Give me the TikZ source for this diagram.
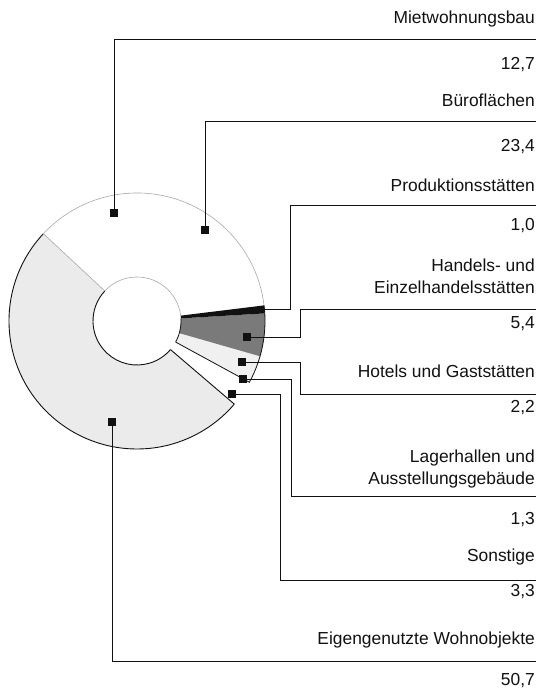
\documentclass[tikz,border=0pt]{standalone}
\usepackage{fontspec}
\setmainfont{Liberation Sans}
\usetikzlibrary{calc}
\definecolor{ChartInk}{HTML}{111111}
\definecolor{ChartDark}{HTML}{7A7A7A}
\definecolor{ChartLight}{HTML}{F0F0F0}
\definecolor{ChartStipple}{HTML}{EBEBEB}
\definecolor{ChartFaint}{HTML}{A8A8A8}
\tikzset{
  every node/.style={font=\fontsize{17.4}{22.5}\selectfont, text=ChartInk},
  marker/.style={fill=ChartInk, inner sep=0pt, minimum size=8pt},
  leader/.style={draw=ChartInk, line width=0.8pt},
  rim/.style={draw=ChartInk, line width=0.9pt},
  faint/.style={draw=ChartFaint, line width=0.6pt},
  itemname/.style={anchor=east, align=right, inner sep=0pt},
  itemvalue/.style={anchor=east, inner sep=0pt},
}

\begin{document}
\begin{tikzpicture}[x=1pt, y=1pt]
  \useasboundingbox (0,0) rectangle (538,690);
  \coordinate (c) at (137,369);
  % Ring segments
  \foreach \a/\b/\tone in {137/319.5/ChartStipple, 331.4/336.1/ChartLight,
      336.1/344/ChartLight, 344/363.4/ChartDark, 363.4/367/ChartInk} {
    \fill[\tone] ($(c)+(\a:44)$) arc[start angle=\a, end angle=\b, radius=44]
      -- ($(c)+(\b:128)$) arc[start angle=\b, end angle=\a, radius=128] -- cycle;
  }
  \draw[rim] ($(c)+(137:128)$) arc[start angle=137, end angle=319.5, radius=128];
  \draw[rim] ($(c)+(137:44)$) arc[start angle=137, end angle=319.5, radius=44];
  \draw[faint] ($(c)+(7:128)$) arc[start angle=7, end angle=137, radius=128];
  \draw[faint] ($(c)+(7:44)$) arc[start angle=7, end angle=137, radius=44];
  \draw[rim] ($(c)+(319.5:44)$) -- ($(c)+(319.5:128)$);
  \draw[faint] ($(c)+(137:44)$) -- ($(c)+(137:128)$);
  \draw[leader] ($(c)+(331.4:44)$) -- ($(c)+(331.4:128)$)
    arc[start angle=331.4, end angle=367, radius=128];
  \draw[leader] ($(c)+(331.4:44)$) arc[start angle=331.4, end angle=363.4, radius=44];
  % Markers
  \node[marker] (miet-mark) at (114,477) {};
  \node[marker] (buero-mark) at (205,460) {};
  \coordinate (prod-tip) at ($(c)+(5:128)$);
  \node[marker] (handel-mark) at (247,353) {};
  \node[marker] (hotel-mark) at (242,328) {};
  \node[marker] (lager-mark) at (243,311) {};
  \node[marker] (sonst-mark) at (232,296) {};
  \node[marker] (eigen-mark) at (112,268) {};
  % Legend
  \node[itemname] (miet-name) at (535,671) {Mietwohnungsbau};
  \node[itemvalue] (miet-value) at (535,625) {12,7};
  \node[itemname] (buero-name) at (535,590) {Büroflächen};
  \node[itemvalue] (buero-value) at (535,543) {23,4};
  \node[itemname] (prod-name) at (535,505) {Produktionsstätten};
  \node[itemvalue] (prod-value) at (535,464) {1,0};
  \node[itemname] (handel-name) at (535,413.5) {Handels- und\\Einzelhandelsstätten};
  \node[itemvalue] (handel-value) at (535,366) {5,4};
  \node[itemname] (hotel-name) at (535,319) {Hotels und Gaststätten};
  \node[itemvalue] (hotel-value) at (535,282) {2,2};
  \node[itemname] (lager-name) at (535,221) {Lagerhallen und\\Ausstellungsgebäude};
  \node[itemvalue] (lager-value) at (535,170) {1,3};
  \node[itemname] (sonst-name) at (535,133) {Sonstige};
  \node[itemvalue] (sonst-value) at (535,98) {3,3};
  \node[itemname] (eigen-name) at (535,50) {Eigengenutzte Wohnobjekte};
  \node[itemvalue] (eigen-value) at (535,9) {50,7};
  \foreach \n/\y in {miet/651, buero/569, prod/485, handel/381,
      hotel/296, lager/194, sonst/110, eigen/29} {
    \coordinate (\n-end) at (536,\y);
  }
  % Leader lines
  \draw[leader] (miet-mark) |- (miet-end);
  \draw[leader] (buero-mark) |- (buero-end);
  \draw[leader] (prod-tip) -- ++(26,0) |- (prod-end);
  \draw[leader] (handel-mark) -- ++(53,0) |- (handel-end);
  \draw[leader] (hotel-mark) -- ++(58,0) |- (hotel-end);
  \draw[leader] (lager-mark) -- ++(48,0) |- (lager-end);
  \draw[leader] (sonst-mark) -- ++(48,0) |- (sonst-end);
  \draw[leader] (eigen-mark) |- (eigen-end);
\end{tikzpicture}
\end{document}
